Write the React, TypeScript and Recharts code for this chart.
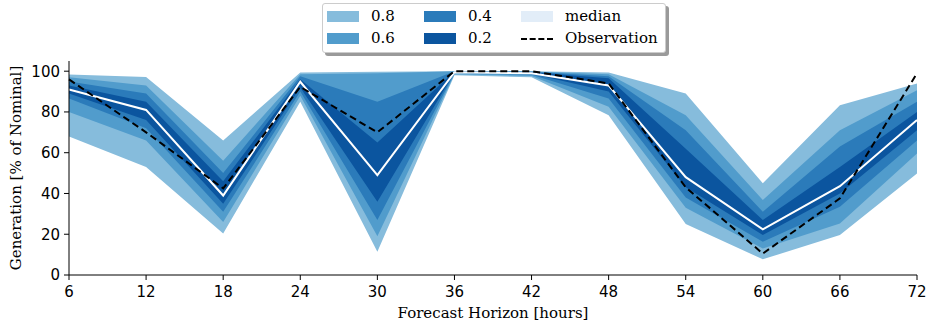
import React from "react";
import { ComposedChart, Area, Line, XAxis, YAxis } from "recharts";

const hours = [6, 12, 18, 24, 30, 36, 42, 48, 54, 60, 66, 72];
const observation = [96, 70, 42.5, 92.3, 70, 100, 100, 94, 43, 10.5, 37.6, 99];
const median = [91, 81, 39, 94.8, 49, 99.5, 99, 93, 48, 22.4, 43.6, 76];
const lo80 = [68, 53, 20.4, 85, 11.4, 98, 97, 78.4, 25, 7.7, 19.6, 49.8];
const lo60 = [80, 66, 26, 88, 19, 98.5, 97.7, 82.5, 33, 13, 25.3, 59.6];
const lo40 = [86.6, 72, 31, 90, 27, 99, 98.3, 86.6, 38, 16.3, 33.5, 66];
const lo20 = [89, 76, 35, 92, 36, 99.3, 98.8, 90, 43, 19.6, 40, 71];
const hi20 = [93, 85, 46, 96, 65, 99.8, 99.5, 96.5, 62, 27, 53, 80];
const hi40 = [95, 89, 50, 97.5, 85, 100, 99.7, 97.5, 71, 31, 63, 85];
const hi60 = [97, 93, 56, 98.5, 99, 100, 99.8, 98.5, 78.4, 36.8, 71, 90.7];
const hi80 = [98.4, 97.2, 66, 99.3, 99.7, 100, 100, 99.3, 89, 45, 83.3, 94];

const xTicks = [6, 12, 18, 24, 30, 36, 42, 48, 54, 60, 66, 72];
const yTicks = [0, 20, 40, 60, 80, 100];

const C80 = "#86bcdc";
const C60 = "#519ccc";
const C40 = "#2b7bba";
const C20 = "#0b559f";
const CMED = "#e2edf8";

const data = hours.map((h, i) => ({
  h,
  b80: [lo80[i], hi80[i]],
  b60: [lo60[i], hi60[i]],
  b40: [lo40[i], hi40[i]],
  b20: [lo20[i], hi20[i]],
  median: median[i],
  obs: observation[i],
}));

const serif = "'DejaVu Serif', serif";
const sans = "'DejaVu Sans', sans-serif";
const FS = 15;

const patch = (left: number, top: number, color: string) => (
  <div style={{ position: "absolute", left, top, width: 32, height: 11, background: color }} />
);
const label = (left: number, top: number, text: string) => (
  <div style={{ position: "absolute", left, top, fontFamily: serif, fontSize: FS, lineHeight: "17px", color: "#000", whiteSpace: "nowrap" }}>{text}</div>
);

export default function App() {
  return (
    <div style={{ position: "absolute", left: 0, top: 0, width: 930, height: 328, background: "#fff" }}>
      <ComposedChart
        width={930}
        height={328}
        data={data}
        margin={{ top: 61, right: 13, bottom: 0, left: 0 }}
      >
        <XAxis
          dataKey="h"
          type="number"
          domain={[6, 72]}
          ticks={xTicks}
          interval={0}
          height={53}
          tickSize={5}
          tickMargin={6}
          stroke="#000"
          tick={{ fill: "#000", fontFamily: sans, fontSize: FS }}
          axisLine={{ stroke: "#000", strokeWidth: 1 }}
          tickLine={{ stroke: "#000" }}
          label={{
            content: () => (
              <text x={493} y={318} textAnchor="middle" fontFamily={serif} fontSize={FS} fill="#000">
                Forecast Horizon [hours]
              </text>
            ),
          }}
        />
        <XAxis
          xAxisId="top"
          orientation="top"
          dataKey="h"
          type="number"
          domain={[6, 72]}
          height={0}
          tick={false}
          tickLine={false}
          axisLine={{ stroke: "#000", strokeWidth: 1 }}
        />
        <YAxis
          type="number"
          domain={[0, 105]}
          ticks={yTicks}
          interval={0}
          width={69}
          tickSize={5}
          tickMargin={4}
          tick={{ fill: "#000", fontFamily: sans, fontSize: FS }}
          axisLine={{ stroke: "#000", strokeWidth: 1 }}
          tickLine={{ stroke: "#000" }}
          label={{
            content: () => (
              <text
                x={16}
                y={168}
                transform="rotate(-90, 16, 168)"
                textAnchor="middle"
                dominantBaseline="central"
                fontFamily={serif}
                fontSize={FS}
                fill="#000"
              >
                Generation [% of Nominal]
              </text>
            ),
          }}
        />
        <YAxis
          yAxisId="right"
          orientation="right"
          type="number"
          domain={[0, 105]}
          width={0}
          tick={false}
          tickLine={false}
          axisLine={{ stroke: "#000", strokeWidth: 1 }}
        />
        <Area type="linear" dataKey="b80" fill={C80} fillOpacity={1} stroke="none" isAnimationActive={false} />
        <Area type="linear" dataKey="b60" fill={C60} fillOpacity={1} stroke="none" isAnimationActive={false} />
        <Area type="linear" dataKey="b40" fill={C40} fillOpacity={1} stroke="none" isAnimationActive={false} />
        <Area type="linear" dataKey="b20" fill={C20} fillOpacity={1} stroke="none" isAnimationActive={false} />
        <Line type="linear" dataKey="median" stroke="#ffffff" strokeWidth={2} dot={false} isAnimationActive={false} />
        <Line type="linear" dataKey="obs" stroke="#000000" strokeWidth={2} strokeDasharray="7 4" dot={false} isAnimationActive={false} />
      </ComposedChart>
      <div
        style={{
          position: "absolute",
          left: 322,
          top: 3,
          width: 342,
          height: 48,
          border: "1px solid #cccccc",
          borderRadius: 3,
          background: "#fff",
          boxShadow: "3px 3px 0 #9a9a9a",
        }}
      >
        {patch(4, 7, C80)}
        {label(48, 4, "0.8")}
        {patch(4, 29, C60)}
        {label(48, 26, "0.6")}
        {patch(101, 7, C40)}
        {label(145, 4, "0.4")}
        {patch(101, 29, C20)}
        {label(145, 26, "0.2")}
        {patch(198, 7, CMED)}
        {label(242, 4, "median")}
        <div style={{ position: "absolute", left: 198, top: 34, width: 32, height: 0, borderTop: "2px dashed #000" }} />
        {label(242, 26, "Observation")}
      </div>
    </div>
  );
}
